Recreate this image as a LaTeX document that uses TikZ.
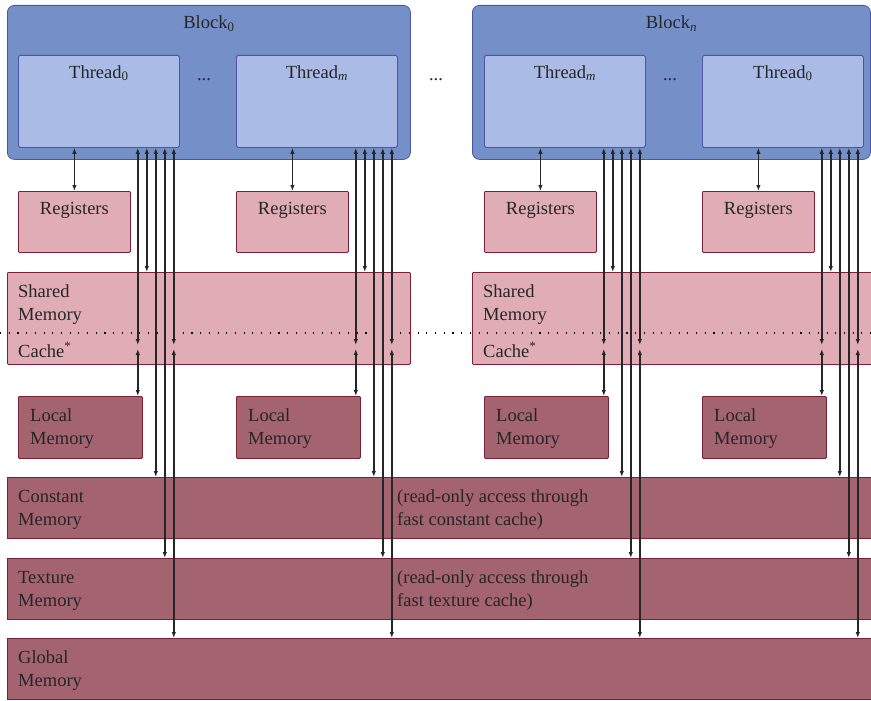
\documentclass[tikz,border=0pt]{standalone}
\usepackage{fontspec}
\setmainfont{Liberation Serif}
\usetikzlibrary{positioning, calc, arrows.meta}

\definecolor{blockblue}{HTML}{7590C9}
\definecolor{threadblue}{HTML}{AABBE5}
\definecolor{edgeblue}{HTML}{4A55A8}
\definecolor{lightred}{HTML}{E0ACB5}
\definecolor{darkred}{HTML}{A3636F}
\definecolor{edgered}{HTML}{7A1F35}

\begin{document}
\begin{tikzpicture}[x=1pt, y=-1pt,
  box/.style={draw, inner sep=0pt, anchor=north west, line width=0.8pt},
  blockbox/.style={box, fill=blockblue, draw=edgeblue, rounded corners=7pt, minimum height=154pt},
  threadbox/.style={box, fill=threadblue, draw=edgeblue, rounded corners=1.5pt, minimum width=161pt, minimum height=92pt},
  regbox/.style={box, fill=lightred, draw=edgered, rounded corners=1pt, minimum width=112pt, minimum height=61pt},
  localbox/.style={box, fill=darkred, draw=edgered, rounded corners=1pt, minimum width=124pt, minimum height=62pt},
  sharedbox/.style={box, fill=lightred, draw=edgered, rounded corners=1pt, minimum height=92pt},
  barbox/.style={box, fill=darkred, draw=edgered, minimum width=900pt, minimum height=61pt},
  lbl/.style={inner sep=0pt, align=left, text=black!85, font=\fontsize{18.5}{23}\selectfont},
  link/.style={{Latex[length=6pt,width=4.5pt]}-{Latex[length=6pt,width=4.5pt]}, line width=1.4pt, black!85}]
\useasboundingbox (0,0) rectangle (871,701);

% Blocks
\node[blockbox, minimum width=403pt] (blk0) at (7,5) {};
\node[blockbox, minimum width=398pt] (blkn) at (472,5) {};
\node[lbl, anchor=base] (blk0lbl) at ($(blk0.north)+(0,24)$) {Block\textsubscript{0}};
\node[lbl, anchor=base] (blknlbl) at ($(blkn.north)+(0,24)$) {Block\textsubscript{\textit{n}}};
\node[lbl] (dots0) at (204,80) {...};
\node[lbl] (dotsmid) at (436,80) {...};
\node[lbl] (dotsn) at (670,80) {...};

% Shared memory / cache
\node[sharedbox, minimum width=403pt] (shm0) at (7,272) {};
\node[sharedbox, minimum width=440pt] (shmn) at (472,272) {};
\foreach \sm in {shm0, shmn} {
  \node[lbl, anchor=base west] (lbl\sm) at ($(\sm.north west)+(11,48)$) {Shared\\Memory};
  \node[lbl, anchor=base west] (cache\sm) at ($(\sm.north west)+(11,85)$) {Cache\textsuperscript{*}};
}
\coordinate (dotl) at (0,333);
\coordinate (dotr) at (871,333);
\draw[line width=1.1pt, dash pattern=on 1.1pt off 7.6pt] (dotl) -- (dotr);

% Constant, texture, global memory
\node[barbox] (cmem) at (7,477) {};
\node[barbox] (tmem) at (7,558) {};
\node[barbox] (gmem) at (7,638) {};
\node[lbl, anchor=base west] (lblcmem) at ($(cmem.north west)+(11,48)$) {Constant\\Memory};
\node[lbl, anchor=base west] (lbltmem) at ($(tmem.north west)+(11,48)$) {Texture\\Memory};
\node[lbl, anchor=base west] (lblgmem) at ($(gmem.north west)+(11,48)$) {Global\\Memory};
\node[lbl, anchor=base west] (notecmem) at ($(cmem.north west)+(390,48)$) {(read-only access through\\fast constant cache)};
\node[lbl, anchor=base west] (notetmem) at ($(tmem.north west)+(390,48)$) {(read-only access through\\fast texture cache)};

% Threads with their registers, local memory and links
\foreach \tx/\tsub/\tn/\sm in {18/0/a/shm0, 236/\textit{m}/b/shm0, 484/\textit{m}/c/shmn, 702/0/d/shmn} {
  \node[threadbox] (th\tn) at (\tx,55) {};
  \node[lbl, anchor=base] (lblth\tn) at ($(th\tn.north)+(0,23)$) {Thread\textsubscript{\tsub}};
  \node[regbox] (reg\tn) at (\tx,191) {};
  \node[lbl, anchor=base] (lblreg\tn) at ($(reg\tn.north)+(0,23)$) {Registers};
  \node[localbox] (loc\tn) at (\tx,396) {};
  \node[lbl, anchor=base west] (lblloc\tn) at ($(loc\tn.north west)+(12,48)$) {Local\\Memory};
  \foreach \k in {1,...,5}
    \coordinate (p\tn\k) at ($(th\tn.south east)+(-51+9*\k,0)$);
  \draw[link] (reg\tn.north |- th\tn.south) -- (reg\tn.north);
  \draw[link] (p\tn1) -- ($(p\tn1 |- dotl)+(0,12)$);
  \draw[link] ($(p\tn1 |- dotl)+(0,16)$) -- (p\tn1 |- loc\tn.north);
  \draw[link] (p\tn2) -- (p\tn2 |- \sm.north);
  \draw[link] (p\tn3) -- (p\tn3 |- cmem.north);
  \draw[link] (p\tn4) -- (p\tn4 |- tmem.north);
  \draw[link] (p\tn5) -- ($(p\tn5 |- dotl)+(0,12)$);
  \draw[link] ($(p\tn5 |- dotl)+(0,16)$) -- (p\tn5 |- gmem.north);
}
\end{tikzpicture}
\end{document}
